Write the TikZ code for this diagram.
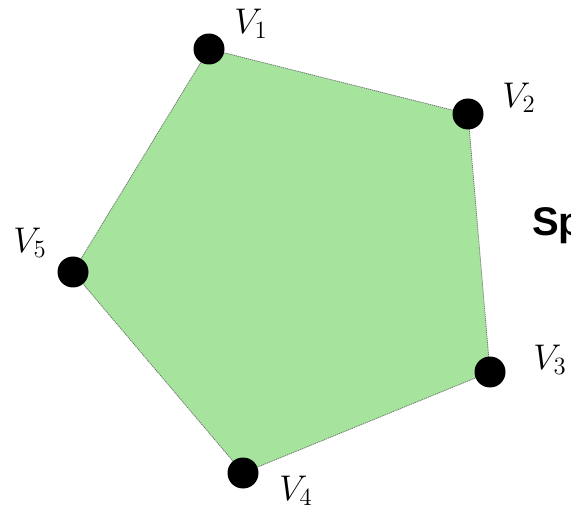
\documentclass[tikz,border=0pt]{standalone}
\usepackage{fontspec}
\newfontfamily\boldsans{Liberation Sans}
\definecolor{polyfill}{RGB}{166,228,158}
\definecolor{edgegray}{RGB}{110,120,110}
\begin{document}
\begin{tikzpicture}[x=1pt,y=-1pt,
  vert/.style={circle,fill=black,inner sep=0pt,minimum size=31pt},
  vlabel/.style={inner sep=0pt,scale=1.72,font=\fontsize{20.74}{24}\selectfont},
  edge/.style={draw=edgegray,line width=0.8pt,dash pattern=on 1.2pt off 0.8pt}]
\useasboundingbox (0,0) rectangle (571,505);
\coordinate (c1) at (209,49);
\coordinate (c2) at (468,114);
\coordinate (c3) at (490,372);
\coordinate (c4) at (243,473);
\coordinate (c5) at (73,272);
\filldraw[fill=polyfill,edge] (c1) -- (c2) -- (c3) -- (c4) -- (c5) -- cycle;
\node[vert] (v1) at (c1) {};
\node[vert] (v2) at (c2) {};
\node[vert] (v3) at (c3) {};
\node[vert] (v4) at (c4) {};
\node[vert] (v5) at (c5) {};
\node[vlabel] (l1) at (251,24) {$V_1$};
\node[vlabel] (l2) at (519,98) {$V_2$};
\node[vlabel] (l3) at (550,360) {$V_3$};
\node[vlabel] (l4) at (296,491) {$V_4$};
\node[vlabel] (l5) at (30,243) {$V_5$};
\node[anchor=base west,inner sep=0pt,font=\boldsans\bfseries\fontsize{40}{44}\selectfont] (sp) at (532,236) {Sp};
\end{tikzpicture}
\end{document}
